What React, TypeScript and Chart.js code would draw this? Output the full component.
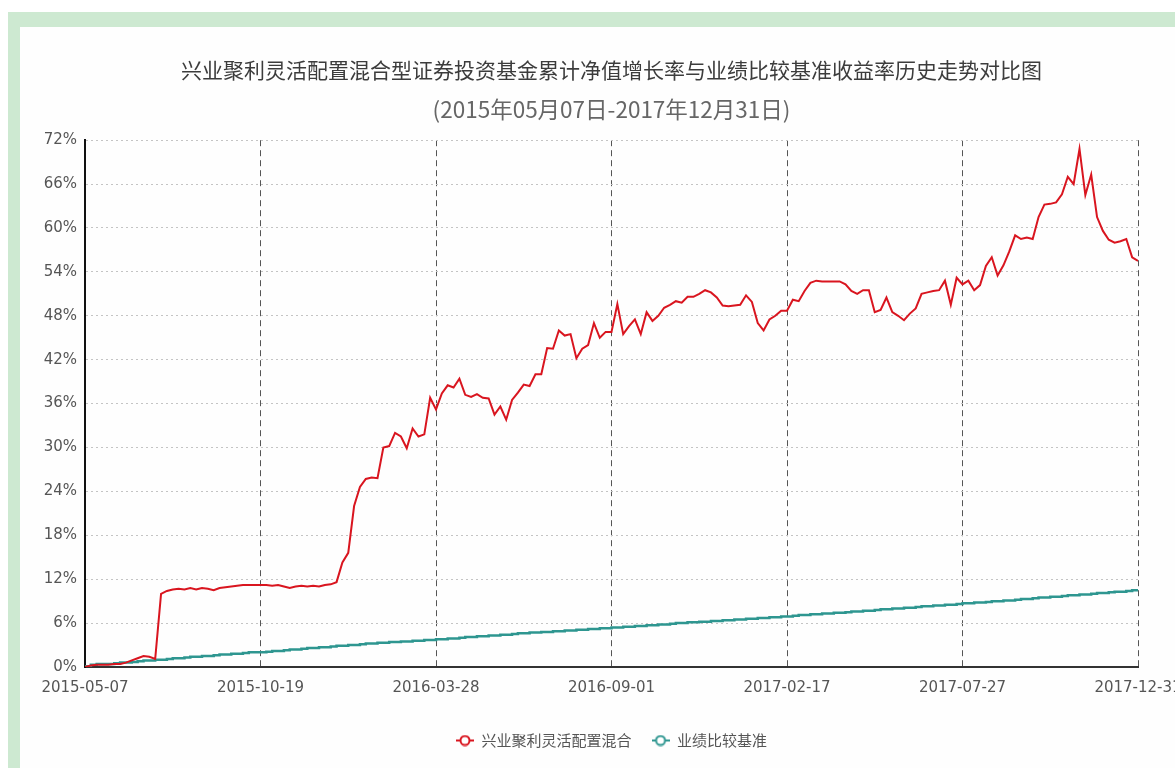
import React, { useEffect, useRef } from 'react';
import { Chart, registerables } from 'chart.js';

Chart.register(...registerables);

const titleText = '兴业聚利灵活配置混合型证券投资基金累计净值增长率与业绩比较基准收益率历史走势对比图';
const subtitleText = '(2015年05月07日-2017年12月31日)';
const xTickLabels = ['2015-05-07', '2015-10-19', '2016-03-28', '2016-09-01', '2017-02-17', '2017-07-27', '2017-12-31'];
const pointsPerTick = 30;
const seriesNames = ['兴业聚利灵活配置混合', '业绩比较基准'];
const yMax = 72;
const yStep = 6;

const fundValues = [
  0.0, 0.2, 0.3, 0.3, 0.3, 0.4, 0.4, 0.6, 0.9, 1.2,
  1.5, 1.4, 1.1, 10.0, 10.4, 10.6, 10.7, 10.6, 10.8, 10.6,
  10.8, 10.7, 10.5, 10.8, 10.9, 11.0, 11.1, 11.2, 11.2, 11.2,
  11.2, 11.2, 11.1, 11.2, 11.0, 10.8, 11.0, 11.1, 11.0, 11.1,
  11.0, 11.2, 11.3, 11.6, 14.3, 15.6, 22.0, 24.6, 25.7, 25.9,
  25.8, 30.0, 30.2, 32.0, 31.5, 29.9, 32.6, 31.5, 31.8, 36.8,
  35.2, 37.4, 38.5, 38.2, 39.4, 37.2, 36.9, 37.3, 36.8, 36.7,
  34.5, 35.6, 33.8, 36.5, 37.5, 38.6, 38.4, 40.0, 40.0, 43.6,
  43.5, 46.0, 45.3, 45.5, 42.2, 43.5, 44.0, 47.0, 45.0, 45.8,
  45.8, 49.6, 45.5, 46.6, 47.5, 45.5, 48.5, 47.3, 48.0, 49.1,
  49.5, 50.0, 49.8, 50.6, 50.6, 51.0, 51.5, 51.2, 50.5, 49.4,
  49.3, 49.4, 49.5, 50.8, 49.9, 47.0, 46.0, 47.5, 48.0, 48.7,
  48.7, 50.2, 50.0, 51.4, 52.5, 52.8, 52.7, 52.7, 52.7, 52.7,
  52.3, 51.4, 51.0, 51.5, 51.5, 48.5, 48.8, 50.5, 48.5, 48.0,
  47.4, 48.3, 49.0, 51.0, 51.2, 51.4, 51.5, 52.8, 49.5, 53.2,
  52.3, 52.8, 51.5, 52.2, 54.8, 56.0, 53.5, 54.9, 56.8, 59.0,
  58.5, 58.7, 58.5, 61.5, 63.2, 63.3, 63.5, 64.6, 67.0, 66.0,
  70.8, 64.5, 67.3, 61.5, 59.6, 58.4, 58.0, 58.2, 58.5, 56.0,
  55.5,
];

const benchmarkValues = [
  0.0, 0.1, 0.3, 0.4, 0.4, 0.4, 0.5, 0.6, 0.6, 0.7,
  0.8, 0.9, 0.9, 1.0, 1.0, 1.1, 1.2, 1.2, 1.3, 1.4,
  1.4, 1.5, 1.5, 1.6, 1.7, 1.7, 1.8, 1.8, 1.9, 2.0,
  2.0, 2.0, 2.1, 2.2, 2.2, 2.3, 2.4, 2.4, 2.5, 2.6,
  2.6, 2.7, 2.7, 2.8, 2.9, 2.9, 3.0, 3.0, 3.1, 3.2,
  3.2, 3.3, 3.3, 3.4, 3.4, 3.5, 3.5, 3.6, 3.6, 3.7,
  3.7, 3.8, 3.8, 3.9, 3.9, 4.0, 4.1, 4.1, 4.2, 4.2,
  4.3, 4.3, 4.4, 4.4, 4.5, 4.6, 4.6, 4.7, 4.7, 4.8,
  4.8, 4.9, 4.9, 5.0, 5.0, 5.1, 5.1, 5.2, 5.2, 5.3,
  5.3, 5.4, 5.4, 5.5, 5.5, 5.6, 5.6, 5.7, 5.7, 5.8,
  5.8, 5.9, 6.0, 6.0, 6.1, 6.1, 6.2, 6.2, 6.3, 6.3,
  6.4, 6.4, 6.5, 6.5, 6.6, 6.6, 6.7, 6.7, 6.8, 6.8,
  6.9, 6.9, 7.0, 7.1, 7.1, 7.2, 7.2, 7.3, 7.3, 7.4,
  7.4, 7.5, 7.6, 7.6, 7.7, 7.7, 7.8, 7.9, 7.9, 8.0,
  8.0, 8.1, 8.1, 8.2, 8.3, 8.3, 8.4, 8.4, 8.5, 8.5,
  8.6, 8.7, 8.7, 8.8, 8.8, 8.9, 9.0, 9.0, 9.1, 9.1,
  9.2, 9.3, 9.3, 9.4, 9.5, 9.5, 9.6, 9.6, 9.7, 9.8,
  9.8, 9.9, 9.9, 10.0, 10.1, 10.1, 10.2, 10.3, 10.3, 10.4,
  10.5,
];

const fundColor = '#d9151f';
const benchColor = '#2e9690';

function makeMarker(color: string): HTMLCanvasElement {
  const c = document.createElement('canvas');
  c.width = 18;
  c.height = 12;
  const g = c.getContext('2d');
  if (g) {
    g.strokeStyle = color;
    g.lineWidth = 2;
    g.beginPath();
    g.moveTo(0, 6);
    g.lineTo(18, 6);
    g.stroke();
    g.beginPath();
    g.arc(9, 6, 4.5, 0, Math.PI * 2);
    g.fillStyle = '#ffffff';
    g.fill();
    g.stroke();
  }
  return c;
}

export default function App() {
  const canvasRef = useRef<HTMLCanvasElement | null>(null);

  useEffect(() => {
    const canvas = canvasRef.current;
    if (!canvas) return;
    const chart = new Chart(canvas, {
      type: 'line',
      data: {
        datasets: [
          {
            label: seriesNames[0],
            data: fundValues.map((y, i) => ({ x: i, y })),
            borderColor: fundColor,
            backgroundColor: fundColor,
            borderWidth: 2,
            pointRadius: 0,
            pointStyle: makeMarker(fundColor) as any,
            tension: 0,
            fill: false,
          },
          {
            label: seriesNames[1],
            data: benchmarkValues.map((y, i) => ({ x: i, y })),
            borderColor: benchColor,
            backgroundColor: benchColor,
            borderWidth: 2.5,
            pointRadius: 0,
            pointStyle: makeMarker(benchColor) as any,
            stepped: 'after',
            fill: false,
          },
        ],
      },
      options: {
        responsive: false,
        animation: false,
        events: [],
        layout: { padding: { left: 0, right: 64, top: 0, bottom: 10 } },
        plugins: {
          title: {
            display: true,
            fullSize: false,
            text: titleText,
            color: '#3c3c3c',
            font: { family: '"Noto Sans CJK SC", sans-serif', size: 21, weight: 'normal' },
            padding: { top: 30, bottom: 0 },
          },
          subtitle: {
            display: true,
            fullSize: false,
            text: subtitleText,
            color: '#666666',
            font: { family: '"Noto Sans CJK SC", sans-serif', size: 22.5, weight: 'normal' },
            padding: { top: 14, bottom: 17 },
          },
          legend: {
            display: true,
            fullSize: false,
            position: 'bottom',
            labels: {
              usePointStyle: true,
              pointStyleWidth: 18,
              padding: 20,
              color: '#555555',
              font: { family: '"Noto Sans CJK SC", sans-serif', size: 15 },
            },
          },
          tooltip: { enabled: false },
        },
        scales: {
          x: {
            type: 'linear',
            min: 0,
            max: (xTickLabels.length - 1) * pointsPerTick,
            afterFit: (s: any) => {
              s.height = 46;
            },
            ticks: {
              stepSize: pointsPerTick,
              autoSkip: false,
              maxRotation: 0,
              padding: 12,
              color: '#555555',
              font: { family: '"DejaVu Sans", sans-serif', size: 15 },
              callback: (v: any) => {
                const idx = Math.round(Number(v) / pointsPerTick);
                return xTickLabels[idx] ?? '';
              },
            },
            grid: { display: true, drawTicks: false, color: '#555555', lineWidth: 1 },
            border: { display: true, color: '#333333', width: 2, dash: [6, 4] },
          },
          y: {
            min: 0,
            max: yMax,
            afterFit: (s: any) => {
              s.width = 65;
            },
            ticks: {
              stepSize: yStep,
              padding: 8,
              color: '#555555',
              font: { family: '"DejaVu Sans", sans-serif', size: 15 },
              callback: (v: any) => `${v}%`,
            },
            grid: { display: true, drawTicks: false, color: '#c4c4c4', lineWidth: 1 },
            border: { display: true, color: '#111111', width: 2, dash: [2, 3] },
          },
        },
      },
    });
    return () => chart.destroy();
  }, []);

  return (
    <div style={{ position: 'fixed', left: 0, top: 0, width: 1175, height: 768, overflow: 'hidden', background: '#ffffff' }}>
      <div style={{ position: 'absolute', left: 8, top: 12, width: 1300, height: 900, background: '#cde9d1' }}>
        <div style={{ position: 'absolute', left: 12, top: 15, width: 1280, height: 880, background: '#fefefe' }}>
          <canvas ref={canvasRef} width={1182} height={741} style={{ display: 'block', width: 1182, height: 741 }} />
        </div>
      </div>
    </div>
  );
}
